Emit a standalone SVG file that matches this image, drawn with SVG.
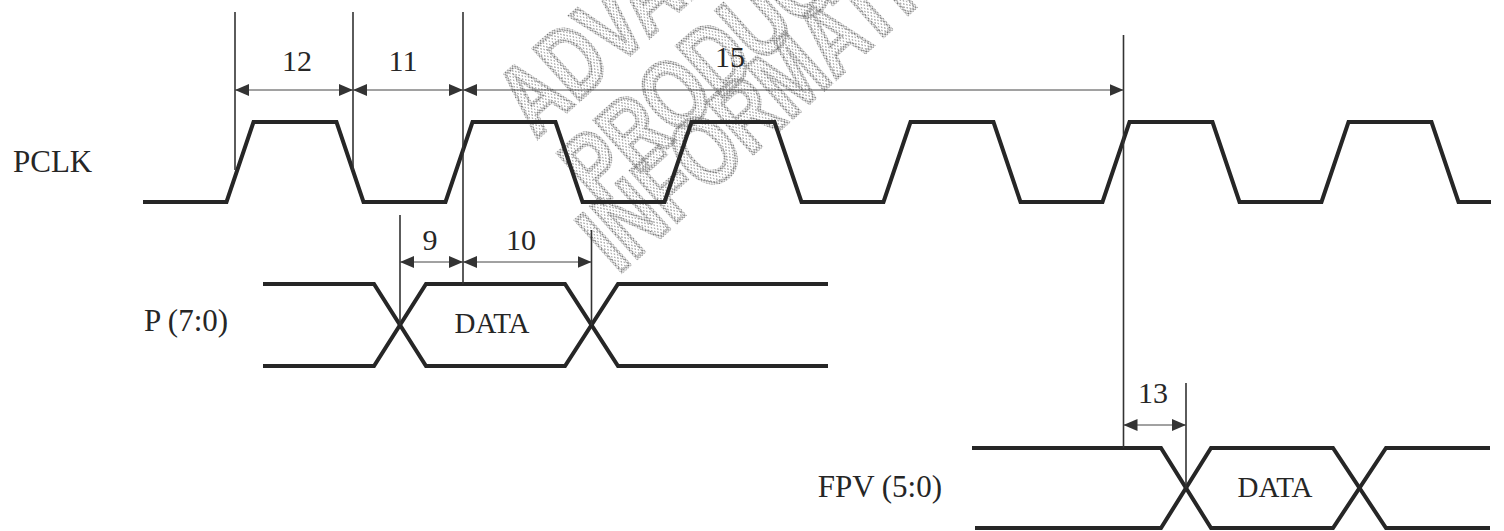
<svg xmlns="http://www.w3.org/2000/svg" width="1504" height="531" viewBox="0 0 1504 531">
<style>
.sig{fill:none;stroke:#262626;stroke-width:4;stroke-linejoin:miter}
.ref{fill:none;stroke:#333;stroke-width:1.6}
.dim{fill:none;stroke:#444;stroke-width:1;marker-start:url(#ah);marker-end:url(#ah)}
.lbl{font-family:"Liberation Serif","Times New Roman",serif;font-size:31px;fill:#262626}
.num{font-family:"Liberation Serif","Times New Roman",serif;font-size:30px;fill:#262626;text-anchor:middle}
.dat{font-family:"Liberation Serif","Times New Roman",serif;font-size:29px;fill:#262626;text-anchor:middle}
.wm{font-family:"Liberation Sans",Arial,sans-serif;font-weight:bold;font-size:100px;fill:url(#dots);stroke:url(#dots2);stroke-width:4}
</style>
<defs>
<marker id="ah" markerUnits="userSpaceOnUse" markerWidth="14" markerHeight="12" refX="14" refY="6" orient="auto-start-reverse">
<path d="M0,0 L14,6 L0,12 z" fill="#333"/>
</marker>
<pattern id="dots" width="3.6" height="3.6" patternUnits="userSpaceOnUse" patternTransform="rotate(45)">
<circle cx="1.8" cy="1.8" r="0.85" fill="#909090"/>
</pattern>
<pattern id="dots2" width="3" height="3" patternUnits="userSpaceOnUse" patternTransform="rotate(45)">
<circle cx="1.5" cy="1.5" r="1.05" fill="#6a6a6a"/>
</pattern>
</defs>
<rect width="1504" height="531" fill="#fff"/>
<g id="watermark">
<text class="wm" transform="translate(536,139) rotate(-42) scale(0.74,1)">ADVANCE</text>
<text class="wm" transform="translate(600,208) rotate(-42) scale(0.74,1)">PRODUCT</text>
<text class="wm" transform="translate(618,275) rotate(-42) scale(0.74,1)">INFORMATION</text>
</g>
<g id="pclk">
<text class="lbl" x="13" y="172">PCLK</text>
<path class="sig" d="M143,202 L226.5,202 L253.5,122 L336.5,122 L363.5,202 L445.5,202 L472.5,122 L555.5,122 L582.5,202 L664.5,202 L691.5,122 L774.5,122 L801.5,202 L883.5,202 L910.5,122 L993.5,122 L1020.5,202 L1102.5,202 L1129.5,122 L1212.5,122 L1239.5,202 L1321.5,202 L1348.5,122 L1431.5,122 L1458.5,202 L1491,202"/>
</g>
<g id="p70">
<text class="lbl" x="144" y="331">P (7:0)</text>
<path class="sig" d="M263,284 L374,284 L426,366 L565,366 L618,284 L828,284"/>
<path class="sig" d="M263,366 L374,366 L426,284 L565,284 L618,366 L828,366"/>
<text class="dat" x="492" y="333">DATA</text>
</g>
<g id="fpv">
<text class="lbl" x="942" y="497" text-anchor="end">FPV (5:0)</text>
<path class="sig" d="M972,448 L1161,448 L1211,528 L1333,528 L1386,448 L1490,448"/>
<path class="sig" d="M975,528 L1161,528 L1211,448 L1333,448 L1386,528 L1490,528"/>
<text class="dat" x="1275" y="497">DATA</text>
</g>
<g id="connectors">
<line class="ref" x1="235" y1="12" x2="235" y2="170"/>
<line class="ref" x1="353" y1="12" x2="353" y2="170"/>
<line class="ref" x1="463" y1="12" x2="463" y2="284"/>
<line class="ref" x1="1123.5" y1="35" x2="1123.5" y2="448"/>
<line class="ref" x1="400" y1="215" x2="400" y2="325"/>
<line class="ref" x1="591.5" y1="230" x2="591.5" y2="325"/>
<line class="ref" x1="1186" y1="383" x2="1186" y2="488"/>
<line class="dim" x1="235" y1="90" x2="353" y2="90"/>
<line class="dim" x1="353" y1="90" x2="463" y2="90"/>
<line class="dim" x1="463" y1="90" x2="1123.5" y2="90"/>
<line class="dim" x1="400" y1="262" x2="463" y2="262"/>
<line class="dim" x1="463" y1="262" x2="591.5" y2="262"/>
<line class="dim" x1="1123.5" y1="425" x2="1186" y2="425"/>
<text class="num" x="297" y="71">12</text>
<text class="num" x="403" y="71">11</text>
<text class="num" x="730" y="67">15</text>
<text class="num" x="430" y="250">9</text>
<text class="num" x="521" y="250">10</text>
<text class="num" x="1153" y="403">13</text>
</g>
</svg>
